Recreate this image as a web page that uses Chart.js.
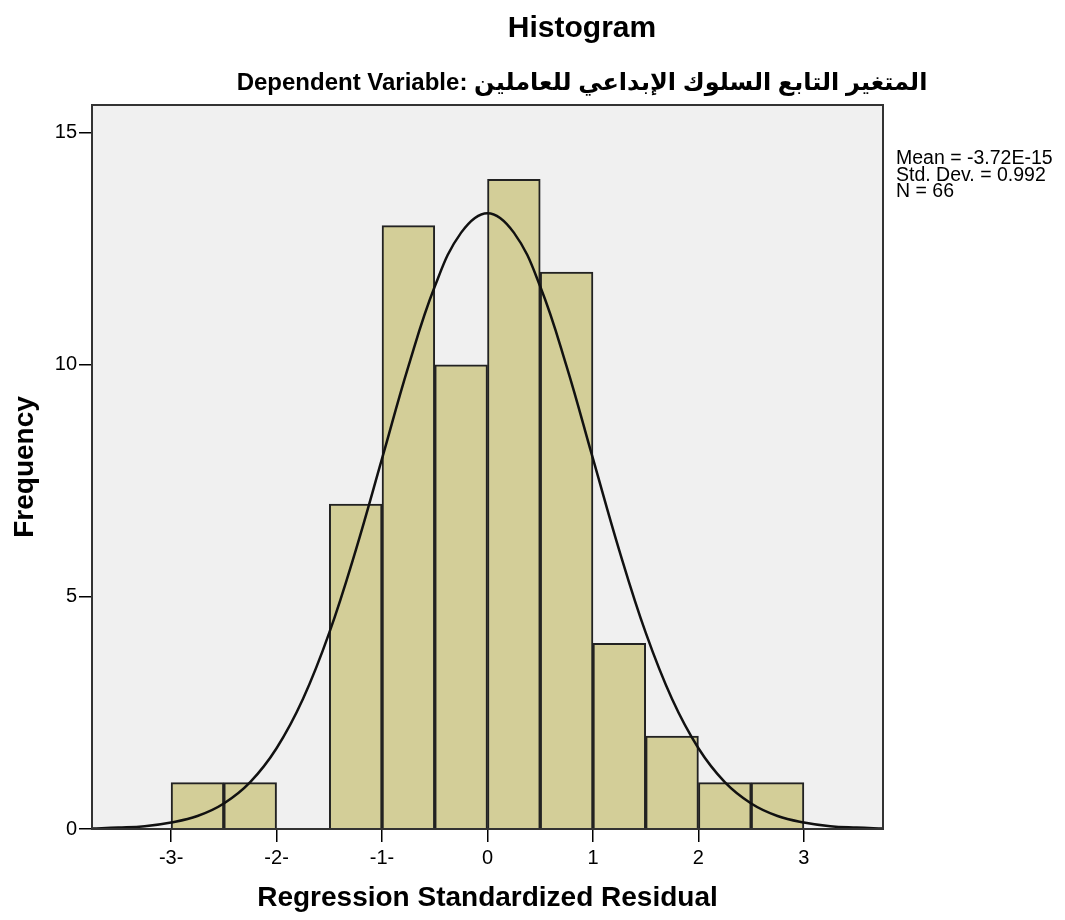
<!DOCTYPE html>
<html>
<head>
<meta charset="utf-8">
<title>Histogram</title>
<script src="https://cdn.jsdelivr.net/npm/chart.js@4"></script>
<style>
  body { margin: 0; background: #fff; }
  canvas { display: block; }
</style>
</head>
<body>
<canvas id="histChart" width="1065" height="920"></canvas>
<script>
// bins of the standardized residual (centre of each 0.5 wide bin) and counts
const binCenters = [-2.75, -2.25, -1.25, -0.75, -0.25, 0.25, 0.75, 1.25, 1.75, 2.25, 2.75];
const binCounts = [1, 1, 7, 13, 10, 14, 12, 4, 2, 1, 1];

// normal curve
const curveX = [-3.75, -3.5, -3.25, -3, -2.75, -2.5, -2.25, -2, -1.75, -1.5, -1.25, -1, -0.75, -0.5, -0.25, 0,
                0.25, 0.5, 0.75, 1, 1.25, 1.5, 1.75, 2, 2.25, 2.5, 2.75, 3, 3.25, 3.5, 3.75];
const curveY = [0.01, 0.03, 0.06, 0.14, 0.28, 0.55, 1.01, 1.74, 2.80, 4.23, 6.00, 7.98, 9.97, 11.69, 12.85, 13.27,
                12.85, 11.69, 9.97, 7.98, 6.00, 4.23, 2.80, 1.74, 1.01, 0.55, 0.28, 0.14, 0.06, 0.03, 0.01];

const xTickValues = [-3, -2, -1, 0, 1, 2, 3];
const xTickLabels = ["-3-", "-2-", "-1-", "0", "1", "2", "3"];
const yTickValues = [0, 5, 10, 15];

const statLines = ["Mean = -3.72E-15", "Std. Dev. = 0.992", "N = 66"];
const chartTitle = "Histogram";
const chartSubtitle = "Dependent Variable: المتغير التابع السلوك الإبداعي للعاملين";

const FONT = '"Liberation Sans", Arial, "DejaVu Sans", sans-serif';

const framePlugin = {
    id: "frame",
    beforeDraw(chart) {
        const { ctx, chartArea: a } = chart;
        ctx.save();
        ctx.fillStyle = "#f0f0f0";
        ctx.fillRect(a.left, a.top, a.right - a.left, a.bottom - a.top);
        ctx.restore();
    },
    afterDraw(chart) {
        const { ctx, chartArea: a } = chart;
        ctx.save();
        ctx.strokeStyle = "#333";
        ctx.lineWidth = 2;
        ctx.strokeRect(a.left, a.top, a.right - a.left, a.bottom - a.top);

        ctx.fillStyle = "#000";
        ctx.textAlign = "center";
        ctx.textBaseline = "alphabetic";
        ctx.direction = "ltr";
        ctx.font = "bold 30px " + FONT;
        ctx.fillText(chartTitle, 582, 37);
        ctx.font = "bold 24px " + FONT;
        ctx.fillText(chartSubtitle, 582, 90);

        ctx.textAlign = "left";
        ctx.font = "19.5px " + FONT;
        statLines.forEach((s, i) => ctx.fillText(s, 896, 164 + i * 16.5));
        ctx.restore();
    }
};

const ctx = document.getElementById("histChart").getContext("2d");

new Chart(ctx, {
    data: {
        datasets: [{
            type: "line",
            data: curveX.map((x, i) => ({ x: x, y: curveY[i] })),
            borderColor: "#111",
            borderWidth: 2.5,
            pointRadius: 0,
            tension: 0.4,
            fill: false,
            order: 0
        }, {
            type: "bar",
            data: binCenters.map((x, i) => ({ x: x, y: binCounts[i] })),
            backgroundColor: "#d3ce98",
            borderColor: "#222",
            borderWidth: 2,
            barPercentage: 1,
            categoryPercentage: 1,
            order: 1
        }]
    },
    options: {
        responsive: false,
        animation: false,
        layout: { padding: { top: 105, left: 0, right: 182, bottom: 0 } },
        plugins: {
            legend: { display: false },
            tooltip: { enabled: false },
            title: { display: false }
        },
        scales: {
            x: {
                type: "linear",
                min: -3.75,
                max: 3.75,
                offset: false,
                afterBuildTicks: scale => { scale.ticks = xTickValues.map(v => ({ value: v })); },
                afterFit: scale => { scale.height = 91; },
                ticks: {
                    callback: (v, i) => xTickLabels[i],
                    color: "#000",
                    font: { size: 20, family: FONT },
                    padding: 4,
                    maxRotation: 0,
                    autoSkip: false
                },
                grid: { offset: false, drawOnChartArea: false, drawTicks: true, tickLength: 13, color: "#000", lineWidth: 1.5 },
                border: { display: true, color: "#333", width: 2 },
                title: {
                    display: true,
                    text: "Regression Standardized Residual",
                    color: "#000",
                    font: { size: 28, weight: "bold", family: FONT },
                    padding: { top: 0, bottom: 5 }
                }
            },
            y: {
                min: 0,
                max: 15.6,
                afterBuildTicks: scale => { scale.ticks = yTickValues.map(v => ({ value: v })); },
                afterFit: scale => { scale.width = 92; },
                ticks: {
                    color: "#000",
                    font: { size: 20, family: FONT },
                    padding: 2
                },
                grid: { drawOnChartArea: false, drawTicks: true, tickLength: 13, color: "#000", lineWidth: 1.5 },
                border: { display: true, color: "#333", width: 2 },
                title: {
                    display: true,
                    text: "Frequency",
                    color: "#000",
                    font: { size: 28, weight: "bold", family: FONT },
                    padding: { top: 8, bottom: 0 }
                }
            }
        }
    },
    plugins: [framePlugin]
});
</script>
</body>
</html>
